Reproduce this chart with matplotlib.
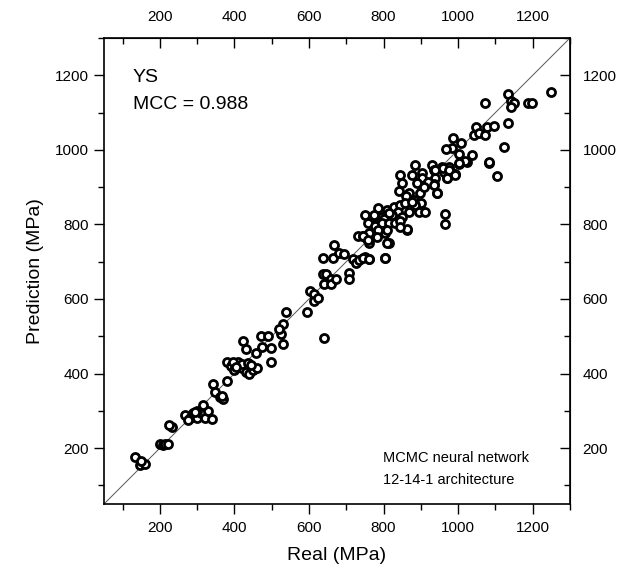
#!/usr/bin/env python3
"""Predicted vs real yield strength for the MCMC neural network."""
import matplotlib
matplotlib.use("Agg")
import matplotlib.pyplot as plt
from matplotlib.ticker import MultipleLocator

plt.rcParams["font.family"] = ["Liberation Sans", "DejaVu Sans"]

# ---------------------------------------------------------------------------
# Data
# ---------------------------------------------------------------------------

real = [
    132, 146, 159, 150,
    200, 208, 215, 222, 232, 225,
    268, 280, 290, 300, 310, 320, 330, 300, 316, 340, 275, 295,
    343, 349, 362, 370, 366, 381,
    380, 390, 400, 410, 420, 430, 440, 420, 450, 460, 395, 435, 405, 445,
    424, 430, 457, 470, 489, 497, 530, 497, 524, 530, 520, 475,
    538, 595, 603, 614, 614, 624, 640,
    638, 668, 665, 681, 695,
    638, 646, 640, 659, 659, 673, 708, 708,
    719, 727, 735, 749, 762, 803,
    732, 746, 762, 768, 781, 773, 803, 814, 862, 790, 755,
    884, 930, 957, 976, 1003, 1024, 1084,
    843, 876, 903, 903, 935, 938, 962, 970, 984, 992,
    849, 889, 911, 935, 841, 868, 897, 943, 881, 900, 860, 920,
    786, 808, 827, 843, 857, 884, 895, 911, 868, 838, 822, 795, 773, 749,
    800, 850, 875, 815, 780,
    965, 965,
    759, 776, 795, 814, 830, 843, 862, 843, 808, 786, 762, 746,
    759, 781, 808, 746, 762, 803,
    1249, 1135, 1141, 1149, 1143, 1073, 1187, 1199,
    1133, 1049, 1078, 1097, 1043, 1057, 1073,
    1124, 987, 1008, 984, 968, 1003, 1038, 1019, 1003, 1084, 1105,
    938, 960, 976, 992, 970, 935, 908, 943,
]

pred = [
    176, 154, 157, 165,
    210, 208, 210, 212, 257, 262,
    290, 280, 295, 280, 295, 280, 300, 300, 316, 278, 275, 298,
    373, 351, 338, 332, 340, 381,
    430, 420, 410, 430, 415, 405, 400, 425, 410, 415, 432, 428, 418, 422,
    487, 465, 454, 500, 500, 468, 478, 432, 505, 532, 520, 470,
    565, 565, 622, 613, 595, 603, 495,
    711, 746, 711, 724, 721,
    668, 668, 641, 654, 640, 654, 670, 654,
    708, 697, 705, 713, 708, 711,
    768, 768, 751, 770, 768, 778, 776, 751, 784, 790, 760,
    960, 960, 954, 954, 962, 968, 965,
    932, 932, 938, 925, 946, 924, 941, 924, 938, 935,
    911, 911, 905, 908, 889, 884, 884, 884, 865, 857, 875, 915,
    843, 838, 846, 851, 857, 851, 832, 832, 832, 832, 824, 819, 824, 824,
    815, 820, 860, 830, 800,
    827, 800,
    803, 797, 805, 805, 805, 808, 789, 792, 784, 784, 778, 770,
    757, 765, 751, 711, 708, 711,
    1154, 1149, 1130, 1127, 1116, 1127, 1127, 1127,
    1073, 1062, 1062, 1065, 1041, 1046, 1041,
    1008, 1032, 1019, 1005, 1003, 989, 987, 970, 965, 968, 930,
    946, 950, 946, 932, 924, 905, 900, 884,
]

LIMITS = (50, 1300)
MAJOR = list(range(200, 1201, 200))
MINOR = list(range(100, 1301, 200))

# ---------------------------------------------------------------------------
# Plot
# ---------------------------------------------------------------------------

fig = plt.figure(figsize=(6.31, 5.76), dpi=100)
ax = fig.add_axes([0.1648, 0.125, 0.7385, 0.809])

ax.plot(LIMITS, LIMITS, color="#555555", linewidth=0.7, zorder=1)
ax.plot(real, pred, linestyle="none", marker="o", markersize=5.8,
        markerfacecolor="white", markeredgecolor="black",
        markeredgewidth=2.0, zorder=2)

ax.set_xlim(*LIMITS)
ax.set_ylim(*LIMITS)

for axis in (ax.xaxis, ax.yaxis):
    axis.set_major_locator(MultipleLocator(200))
    axis.set_minor_locator(MultipleLocator(100))

ax.tick_params(which="major", direction="out", length=7, width=1,
               labelsize=11, pad=4)
ax.tick_params(which="minor", direction="out", length=4, width=1)
ax.tick_params(axis="x", pad=5)

# mirrored axes on top and right, ticks pointing in
top = ax.secondary_xaxis("top")
right = ax.secondary_yaxis("right")
top.set_xticks(MAJOR)
top.set_xticks(MINOR, minor=True)
right.set_yticks(MAJOR)
right.set_yticks(MINOR, minor=True)
for sec in (top, right):
    sec.tick_params(which="major", direction="in", length=7, width=1,
                    labelsize=11, pad=9)
    sec.tick_params(which="minor", direction="in", length=4, width=1)
top.tick_params(pad=10)

for spine in ax.spines.values():
    spine.set_linewidth(1.2)

ax.set_xlabel("Real (MPa)", fontsize=14, labelpad=9)
ax.set_ylabel("Prediction (MPa)", fontsize=14, labelpad=8)

ax.text(0.062, 0.916, "YS", transform=ax.transAxes, fontsize=14,
        va="center", ha="left")
ax.text(0.062, 0.858, "MCC = 0.988", transform=ax.transAxes, fontsize=14,
        va="center", ha="left")
ax.text(0.599, 0.099, "MCMC neural network", transform=ax.transAxes,
        fontsize=10.5, va="center", ha="left")
ax.text(0.599, 0.0515, "12-14-1 architecture", transform=ax.transAxes,
        fontsize=10.5, va="center", ha="left")

fig.savefig("out.png", dpi=100)
